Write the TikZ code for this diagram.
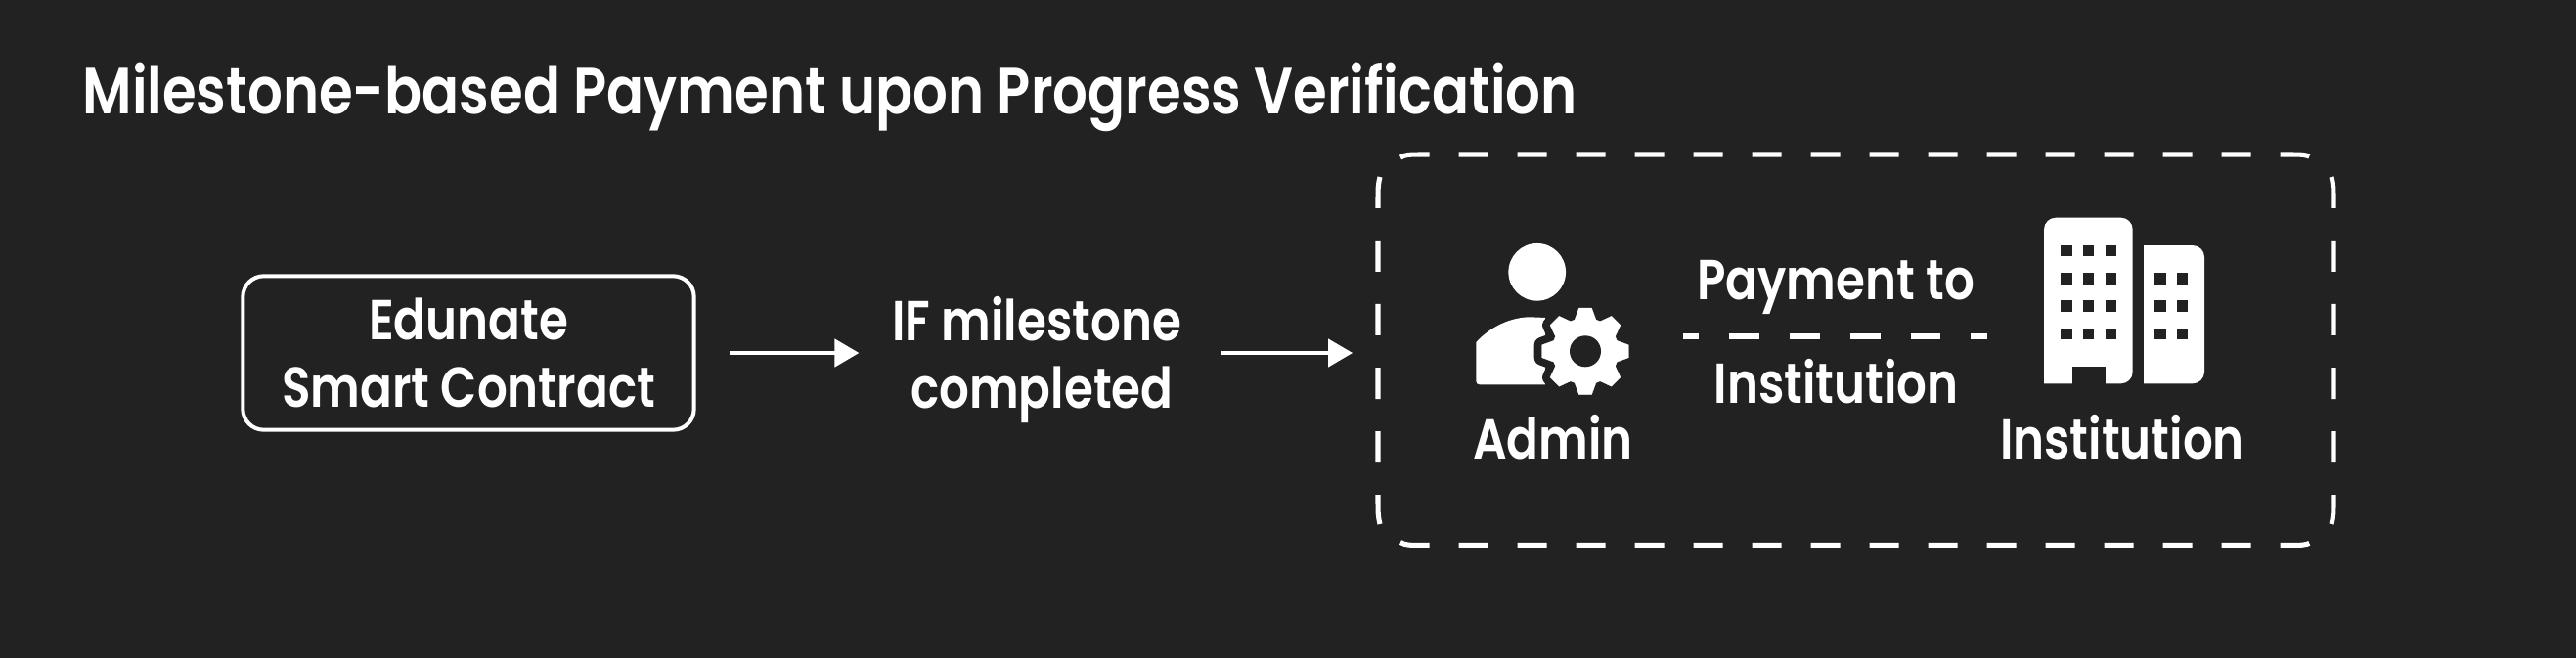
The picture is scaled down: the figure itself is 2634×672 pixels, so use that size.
\documentclass[tikz,border=0pt]{standalone}
\usepackage{fontspec}
\setmainfont{Poppins SemiBold}[FakeStretch=0.84]
\usetikzlibrary{arrows.meta}
\definecolor{bgcol}{HTML}{222222}
\tikzset{
  x=0.375pt, y=-0.375pt,
  label/.style={white, inner sep=0pt, align=center, font=\fontsize{21.6}{25.9}\selectfont},
  baselabel/.style={label, anchor=base},
  contractbox/.style={label, draw, line width=1.5pt, rounded corners=8pt, minimum width=173pt, minimum height=59pt},
  flowarrow/.style={white, line width=1.7pt, -{Triangle[length=9.4pt,width=10.5pt]}},
  sideh/.style={white, line width=1.9pt, dash pattern=on 11.25pt off 11.25pt},
  sidev/.style={white, line width=1.9pt, dash pattern=on 12pt off 12.4pt},
  sepline/.style={white, line width=2pt, dash pattern=on 11.6pt off 11.6pt, dash phase=5.6pt},
}
\begin{document}
\begin{tikzpicture}
  \useasboundingbox (0,0) rectangle (2634,672);
  \fill [bgcol] (-9,-9) rectangle (2643,681);
  \node (title) [baselabel, anchor=base west, font=\fontsize{25.07}{28}\selectfont] at (84,116) {Milestone-based Payment upon Progress Verification};
  \node (contract) [contractbox] at (479,361) {Edunate\\Smart Contract};
  \node (ifcheck) [label] at (1060,368) {IF milestone\\\hspace*{4pt}completed};
  \node (group) [minimum width=366pt, minimum height=150pt, inner sep=0pt] at (1897.5,358) {};
  \draw [flowarrow, shorten <=12.7pt, shorten >=12.4pt] (contract.east) -- (ifcheck.west |- contract.east);
  \draw [flowarrow, shorten <=15pt, shorten >=9.7pt] (ifcheck.east |- contract.east) -- (group.west |- contract.east);
  % dashed frame, one side at a time
  \foreach \yy/\ye in {158/161,557.5/554.5} {
    \draw [sideh] (1432,\ye) .. controls (1438,\yy) .. (1462,\yy) -- (2333,\yy) .. controls (2357,\yy) .. (2363,\ye);
  }
  \foreach \xx/\xe in {1409/1411,2386/2384} {
    \draw [sidev] (\xe,181) .. controls (\xx,190) .. (\xx,212) -- (\xx,505) .. controls (\xx,527) .. (\xe,536);
  }
  % admin icon
  \fill [white] (1571.7,278.3) circle [radius=11pt];
  \fill [white] (1580,325) -- (1565,324.3) .. controls (1545,324.3) and (1524,334) .. (1509.3,350) -- (1509.3,390) .. controls (1509.3,392) and (1511,393.3) .. (1513,393.3) -- (1580,393.3) -- cycle;
  \foreach \ink/\halo in {bgcol/6pt,white/0.1pt} {
    \fill [\ink, draw=\ink, line width=\halo] (1621,359.3) circle [radius=12.75pt];
    \foreach \a in {0,45,...,315} {
      \filldraw [\ink, line width=\halo, line join=round, shift={(1621,359.3)}, rotate=\a] (-11,-32) -- (-6.5,-44.3) -- (6.5,-44.3) -- (11,-32) -- cycle;
    }
  }
  \fill [bgcol] (1621,359.3) circle [radius=6pt];
  \node (admin) [baselabel] at (1588,469) {Admin};
  % institution icon
  \fill [white, rounded corners=4.5pt] (2090,392.3) -- (2090,222.7) -- (2180.7,222.7) -- (2180.7,392.3) [sharp corners] -- cycle;
  \fill [bgcol] (2118.7,375) rectangle (2152.7,393);
  \fill [white, rounded corners=4.5pt] (2192,251) -- (2254,251) -- (2254,392.3) [sharp corners] -- (2192,392.3) -- cycle;
  \foreach \xx in {2107.3,2130,2152.7} {
    \foreach \yy in {251,279.3,307.3,335.7} {
      \fill [bgcol] (\xx,\yy) rectangle +(11.3,11.3);
    }
  }
  \foreach \xx in {2203.3,2226} {
    \foreach \yy in {279.3,307.3,335.7} {
      \fill [bgcol] (\xx,\yy) rectangle +(11.3,11.3);
    }
  }
  \node (inst) [baselabel] at (2170,469) {Institution};
  % payment line
  \coordinate (sepl) at (1721,344);
  \coordinate (sepr) at (2032,344);
  \draw [sepline] (sepl) -- (sepr);
  \node (payto) [baselabel] at (1877,306.7) {Payment to};
  \node (payinst) [baselabel] at (1877.5,412.7) {Institution};
\end{tikzpicture}
\end{document}
